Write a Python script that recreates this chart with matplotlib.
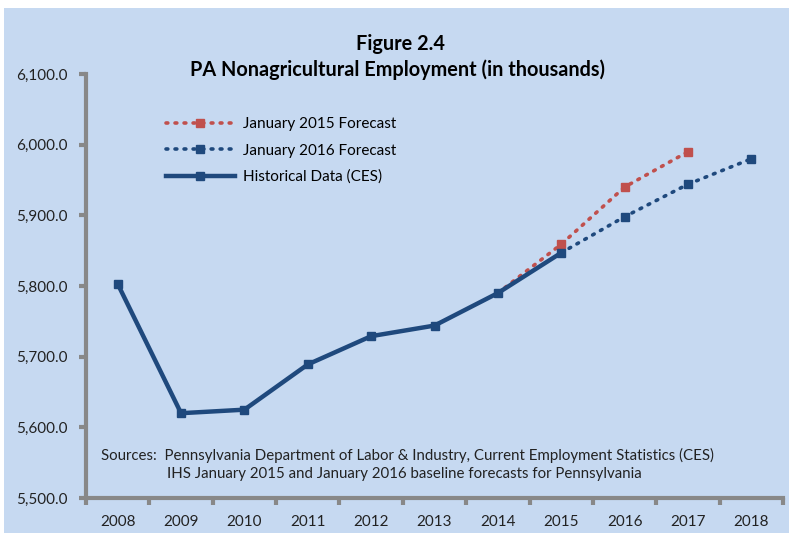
import matplotlib
matplotlib.use("Agg")
import matplotlib.pyplot as plt
from matplotlib.lines import Line2D
from matplotlib.patches import Rectangle

# --------------------------------------------------
# Data (thousands of jobs)
# --------------------------------------------------
years = ["2008", "2009", "2010", "2011", "2012", "2013",
         "2014", "2015", "2016", "2017", "2018"]

hist_years = [0, 1, 2, 3, 4, 5, 6, 7]
hist_vals = [5803, 5620, 5625, 5689, 5729, 5744, 5790, 5847]

f15_years = [6, 7, 8, 9]
f15_vals = [5790, 5859, 5940, 5990]

f16_years = [7, 8, 9, 10]
f16_vals = [5847, 5898, 5944, 5980]

BG = "#C6D9F1"
NAVY = "#1F497D"
RED = "#C0504D"
GRAY = "#888888"
DOTS = (0, (0.5, 2.0))

plt.rcParams["font.family"] = ["Lato", "DejaVu Sans"]

fig = plt.figure(figsize=(7.89, 5.33), dpi=100)
fig.patch.set_facecolor("white")
fig.patches.append(Rectangle((4 / 789, 0), 1, (533 - 8) / 533,
                             transform=fig.transFigure, facecolor=BG,
                             edgecolor="none", zorder=-10))

ax = fig.add_axes([86 / 789, (533 - 498) / 533, (783 - 86) / 789, (498 - 74) / 533])
ax.set_facecolor("none")

# --------------------------------------------------
# Lines
# --------------------------------------------------
ax.plot(f15_years, f15_vals, color=RED, lw=2.6, linestyle=DOTS,
        dash_capstyle="round", marker="s", ms=6, markevery=[1, 2, 3], zorder=3)
ax.plot(f16_years, f16_vals, color=NAVY, lw=2.6, linestyle=DOTS,
        dash_capstyle="round", marker="s", ms=6, markevery=[1, 2, 3], zorder=3)
ax.plot(hist_years, hist_vals, color=NAVY, lw=3.2, marker="s", ms=6, zorder=4)

# --------------------------------------------------
# Axes styling
# --------------------------------------------------
ax.set_xlim(-0.5, 10.5)
ax.set_ylim(5500, 6100)
ax.set_yticks(range(5500, 6101, 100))
ax.set_yticklabels([f"{v:,.1f}" for v in range(5500, 6101, 100)])
ax.set_xticks(range(len(years)))
ax.set_xticklabels(years)
ax.set_xticks([i + 0.5 for i in range(-1, len(years))], minor=True)

for s in ["top", "right"]:
    ax.spines[s].set_visible(False)
for s in ["left", "bottom"]:
    ax.spines[s].set_color(GRAY)
    ax.spines[s].set_linewidth(3)

ax.tick_params(axis="y", direction="out", length=5, width=3, color=GRAY,
               labelsize=11, pad=8, labelcolor="#222222")
ax.tick_params(axis="x", which="major", length=0, labelsize=11, pad=12,
               labelcolor="#222222")
ax.tick_params(axis="x", which="minor", direction="out", length=5, width=3,
               color=GRAY)

# --------------------------------------------------
# Titles, legend, sources
# --------------------------------------------------
fig.text(400 / 789, 1 - 44 / 533, "Figure 2.4", ha="center", va="center",
         fontsize=14.3, fontweight="bold")
fig.text(398 / 789, 1 - 70 / 533, "PA Nonagricultural Employment (in thousands)",
         ha="center", va="center", fontsize=14.3, fontweight="bold")

handles = [
    Line2D([], [], color=RED, lw=2.6, linestyle=DOTS,
           dash_capstyle="round", marker="s", ms=6),
    Line2D([], [], color=NAVY, lw=2.6, linestyle=DOTS,
           dash_capstyle="round", marker="s", ms=6),
    Line2D([], [], color=NAVY, lw=3.2, marker="s", ms=6),
]
labels = ["January 2015 Forecast", "January 2016 Forecast", "Historical Data (CES)"]
ax.legend(handles, labels, loc="upper left", bbox_to_anchor=(0.095, 0.93),
          frameon=False, fontsize=11, handlelength=4.5, handletextpad=0.55,
          labelspacing=0.8, numpoints=1)

ax.text(101 / 789, 1 - 455 / 533, "Sources:  Pennsylvania Department of Labor & Industry, "
        "Current Employment Statistics (CES)", transform=fig.transFigure,
        ha="left", va="center", fontsize=10.8, color="#222222")
ax.text(167 / 789, 1 - 474 / 533, "IHS January 2015 and January 2016 baseline forecasts "
        "for Pennsylvania", transform=fig.transFigure,
        ha="left", va="center", fontsize=10.8, color="#222222")

fig.savefig("out.png", dpi=100, facecolor=fig.get_facecolor())
